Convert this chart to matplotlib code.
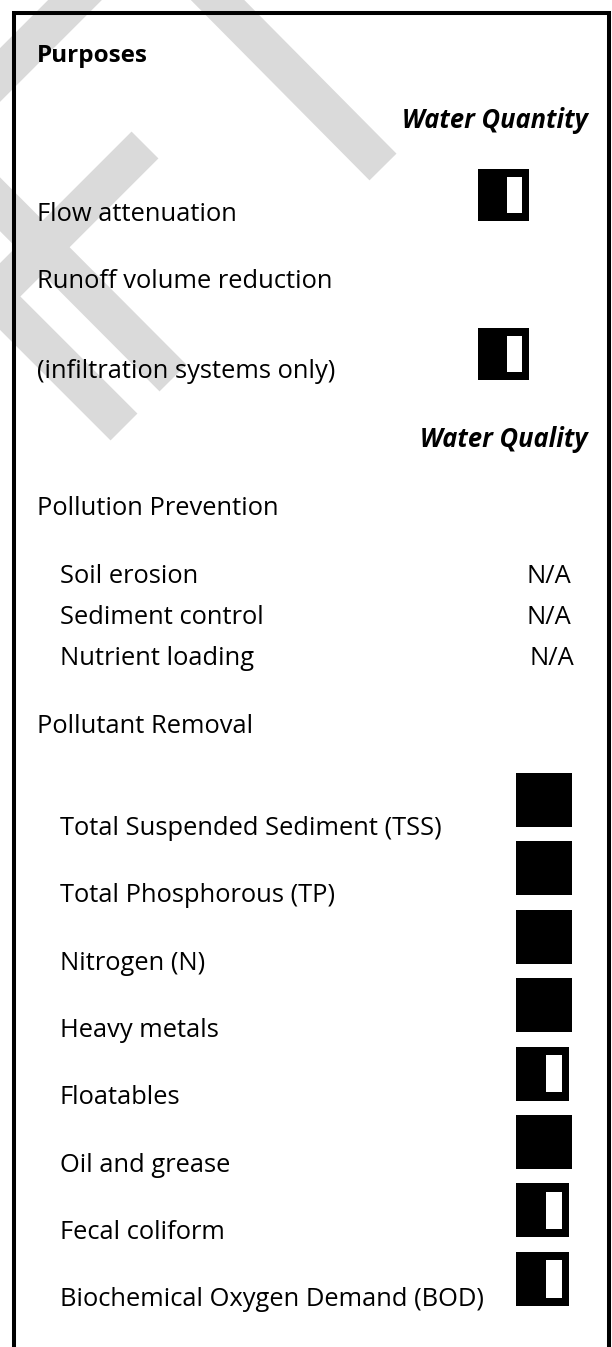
import numpy as np
import matplotlib.pyplot as plt
from matplotlib.patches import Rectangle, Polygon

plt.rcParams['font.family'] = ['Open Sans', 'DejaVu Sans']

# ---- data ----
section_title = 'Purposes'
quantity_header = 'Water Quantity'
quality_header = 'Water Quality'
quantity_items = ['Flow attenuation', 'Runoff volume reduction']
quantity_note = '(infiltration systems only)'
quantity_rating = ['partial', 'partial']
prevention_header = 'Pollution Prevention'
prevention_items = ['Soil erosion', 'Sediment control', 'Nutrient loading']
prevention_rating = ['N/A', 'N/A', 'N/A']
removal_header = 'Pollutant Removal'
removal_items = ['Total Suspended Sediment (TSS)', 'Total Phosphorous (TP)',
                 'Nitrogen (N)', 'Heavy metals', 'Floatables', 'Oil and grease',
                 'Fecal coliform', 'Biochemical Oxygen Demand (BOD)']
removal_rating = ['full', 'full', 'full', 'full', 'partial', 'full',
                  'partial', 'partial']

W, H = 612, 1347
fig = plt.figure(figsize=(W / 100, H / 100), dpi=100)
ax = fig.add_axes([0, 0, 1, 1])
ax.set_xlim(0, W)
ax.set_ylim(H, 0)
ax.axis('off')

# light grey "draft" watermark strokes (centre line start/end)
wm = [(168, -50, 383, 167), (130, -55, -45, 120), (145, 145, -60, 350),
      (-60, 144, 173, 378), (-60, 243, 124, 427)]
bw = 38
for x0, y0, x1, y1 in wm:
    d = np.array([x1 - x0, y1 - y0], float)
    n = np.array([-d[1], d[0]]) / np.hypot(*d) * bw / 2
    p0, p1 = np.array([x0, y0]), np.array([x1, y1])
    ax.add_patch(Polygon([p0 + n, p1 + n, p1 - n, p0 - n], closed=True,
                         facecolor='#dadada', edgecolor='none', zorder=0))

# box border (open at the bottom)
ax.plot([13.5, 13.5, 609, 609], [H + 5, 12.5, 12.5, H + 5], color='black',
        lw=2.9, solid_joinstyle='miter', zorder=5)


def icon(x, y, w, h, kind):
    ax.add_patch(Rectangle((x, y), w, h, facecolor='black', edgecolor='none', zorder=3))
    if kind == 'partial':
        ax.add_patch(Rectangle((x + 0.57 * w, y + 0.15 * h), 0.30 * w, 0.70 * h,
                               facecolor='white', edgecolor='none', zorder=4))


fs = 18.4
ax.text(37, 62, section_title, fontsize=17.5, fontweight='bold', va='baseline')
ax.text(588, 128, quantity_header, fontsize=fs, fontweight='bold',
        fontstyle='italic', ha='right', va='baseline')

ax.text(37, 221, quantity_items[0], fontsize=fs, va='baseline')
ax.text(37, 288, quantity_items[1], fontsize=fs, va='baseline')
ax.text(37, 378, quantity_note, fontsize=fs, va='baseline')
icon(478, 169, 51, 52, quantity_rating[0])
icon(478, 328, 51, 52, quantity_rating[1])

ax.text(588, 447, quality_header, fontsize=fs, fontweight='bold',
        fontstyle='italic', ha='right', va='baseline')
ax.text(37, 515, prevention_header, fontsize=fs, va='baseline')

na_right = [571, 571, 574]
for i, (lab, val) in enumerate(zip(prevention_items, prevention_rating)):
    yb = 583 + 41 * i
    ax.text(60, yb, lab, fontsize=fs, va='baseline')
    ax.text(na_right[i], yb, val, fontsize=fs, ha='right', va='baseline')

ax.text(37, 733, removal_header, fontsize=fs, va='baseline')
for i, (lab, r) in enumerate(zip(removal_items, removal_rating)):
    ax.text(60, 835 + 67.3 * i, lab, fontsize=fs, va='baseline')
    w = 56 if r == 'full' else 53
    icon(516, 773 + 68.4 * i, w, 54, r)

fig.savefig('out.png', dpi=100)
